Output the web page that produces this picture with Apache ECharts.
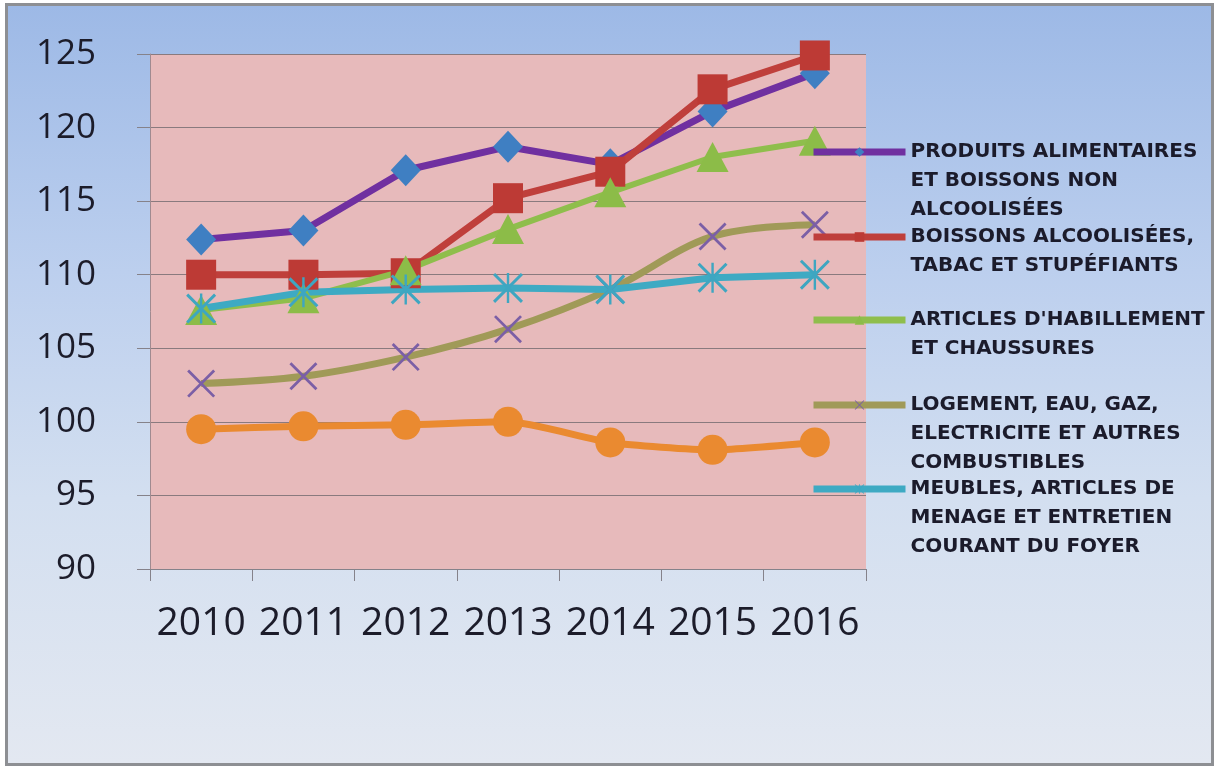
<!DOCTYPE html>
<html>
<head>
<meta charset="utf-8">
<script src="https://cdn.jsdelivr.net/npm/echarts@6/dist/echarts.min.js"></script>
<style>
  html, body { margin: 0; padding: 0; background: #ffffff; }
  #frame {
    position: absolute; left: 5px; top: 3px; width: 1203px; height: 757px;
    border: 3px solid #8d8f93;
    background: linear-gradient(to bottom, #9db9e6 0%, #bccfee 35%, #d3dff0 65%, #e3e8f1 100%);
  }
  #chart { position: absolute; left: 0; top: 0; width: 1217px; height: 769px; }
</style>
</head>
<body>
<div id="frame"></div>
<div id="chart"></div>
<script>
// ---- data ----
const years = ['2010', '2011', '2012', '2013', '2014', '2015', '2016'];
const yTicks = { min: 90, max: 125, step: 5 };

const seriesNames = [
  'PRODUITS ALIMENTAIRES ET BOISSONS NON ALCOOLISÉES',
  'BOISSONS ALCOOLISÉES, TABAC ET STUPÉFIANTS',
  "ARTICLES D'HABILLEMENT ET CHAUSSURES",
  'LOGEMENT, EAU, GAZ, ELECTRICITE ET AUTRES COMBUSTIBLES',
  'MEUBLES, ARTICLES DE MENAGE ET ENTRETIEN COURANT DU FOYER',
  'SÉRIE 6'
];
const legendLines = [
  ['PRODUITS ALIMENTAIRES', 'ET BOISSONS NON', 'ALCOOLISÉES'],
  ['BOISSONS ALCOOLISÉES,', 'TABAC ET STUPÉFIANTS'],
  ["ARTICLES D'HABILLEMENT", 'ET CHAUSSURES'],
  ['LOGEMENT, EAU, GAZ,', 'ELECTRICITE ET AUTRES', 'COMBUSTIBLES'],
  ['MEUBLES, ARTICLES DE', 'MENAGE ET ENTRETIEN', 'COURANT DU FOYER']
];

const alimentaires = [112.4, 113.0, 117.1, 118.7, 117.5, 121.1, 123.7];
const alcoolisees  = [110.0, 110.0, 110.1, 115.2, 117.0, 122.6, 124.9];
const habillement  = [107.6, 108.4, 110.3, 113.1, 115.6, 118.0, 119.1];
const logement     = [102.6, 103.1, 104.4, 106.3, 109.0, 112.6, 113.4];
const meubles      = [107.7, 108.8, 109.0, 109.1, 109.0, 109.8, 110.0];
const serie6       = [99.5, 99.7, 99.8, 100.0, 98.6, 98.1, 98.6];

// ---- styles ----
const X_PATH = 'path://M7,0 L100,93 L93,100 L0,7 Z M93,0 L100,7 L7,100 L0,93 Z';
const STAR_PATH = 'path://M7,0 L100,93 L93,100 L0,7 Z M93,0 L100,7 L7,100 L0,93 Z M46,0 L54,0 L54,100 L46,100 Z';

const styles = [
  { line: '#7030a0', mark: '#3f7fc2', symbol: 'diamond', size: [30, 32], width: 7, smooth: false },
  { line: '#bf3f3b', mark: '#bd3a35', symbol: 'rect', size: [30, 30], width: 7, smooth: false },
  { line: '#8fbe4c', mark: '#8cbc48', symbol: 'triangle', size: [32, 30], width: 6, smooth: false },
  { line: '#a09a58', mark: '#7b5fa6', symbol: X_PATH, size: [28, 28], width: 7, smooth: 0.35 },
  { line: '#3eaac3', mark: '#3ea6c1', symbol: STAR_PATH, size: [30, 30], width: 7, smooth: false },
  { line: '#ea8a30', mark: '#ea8a30', symbol: 'circle', size: [30, 30], width: 7, smooth: 0.2 }
];
const allData = [alimentaires, alcoolisees, habillement, logement, meubles, serie6];

const FONT = "'Open Sans', 'Noto Sans', sans-serif";
const LEGEND_FONT = "'DejaVu Sans', sans-serif";
const chart = echarts.init(document.getElementById('chart'), null, { renderer: 'canvas' });

const series = allData.map((d, i) => ({
  name: seriesNames[i],
  type: 'line',
  data: d,
  smooth: styles[i].smooth,
  symbol: styles[i].symbol,
  symbolSize: styles[i].size,
  showAllSymbol: true,
  lineStyle: { color: styles[i].line, width: styles[i].width },
  itemStyle: { color: styles[i].mark, borderWidth: 0 },
  color: styles[i].line,
  emphasis: { disabled: true },
  animation: false
}));

// legend: one component per entry, icon aligned on the first text line
const legendFirstLineY = [152, 237, 320, 405, 489];
const LH = 29;
const legends = legendLines.map((lines, i) => {
  const n = lines.length;
  const pad = new Array(n - 1).fill('').join('\n');
  const txt = (n > 1 ? pad + '\n' : '') + lines.join('\n');
  return {
    show: true,
    data: [seriesNames[i]],
    left: 810,
    top: legendFirstLineY[i] - (n - 1) * LH - LH / 2,
    padding: 0,
    itemWidth: 92,
    itemHeight: 12,
    selectedMode: false,
    formatter: () => txt,
    textStyle: { fontFamily: LEGEND_FONT, fontWeight: 'bold', fontSize: 20, color: '#1b1b2b', lineHeight: LH },
    itemStyle: { color: styles[i].mark },
    lineStyle: { color: styles[i].line, width: 7 }
  };
});

chart.setOption({
  backgroundColor: 'transparent',
  animation: false,
  grid: {
    left: 150, right: 351, top: 54, bottom: 200,
    show: true, backgroundColor: '#e7babb', borderWidth: 0
  },
  legend: legends,
  xAxis: {
    type: 'category',
    data: years,
    boundaryGap: true,
    axisLine: { show: true, lineStyle: { color: '#85828a', width: 1 } },
    axisTick: { show: true, length: 12, inside: false, lineStyle: { color: '#85828a' } },
    axisLabel: { interval: 0, fontFamily: FONT, fontSize: 39, color: '#1c1c2a', margin: 35 },
    splitLine: { show: false }
  },
  yAxis: {
    type: 'value',
    min: yTicks.min, max: yTicks.max, interval: yTicks.step,
    axisLine: { show: true, lineStyle: { color: '#a08a90', width: 1 } },
    axisTick: { show: true, length: 13, lineStyle: { color: '#85828a' } },
    axisLabel: { fontFamily: FONT, fontSize: 35, color: '#1c1c2a', margin: 54 },
    splitLine: { show: true, lineStyle: { color: '#8a7a7e', width: 1 } }
  },
  series: series
});
</script>
</body>
</html>
